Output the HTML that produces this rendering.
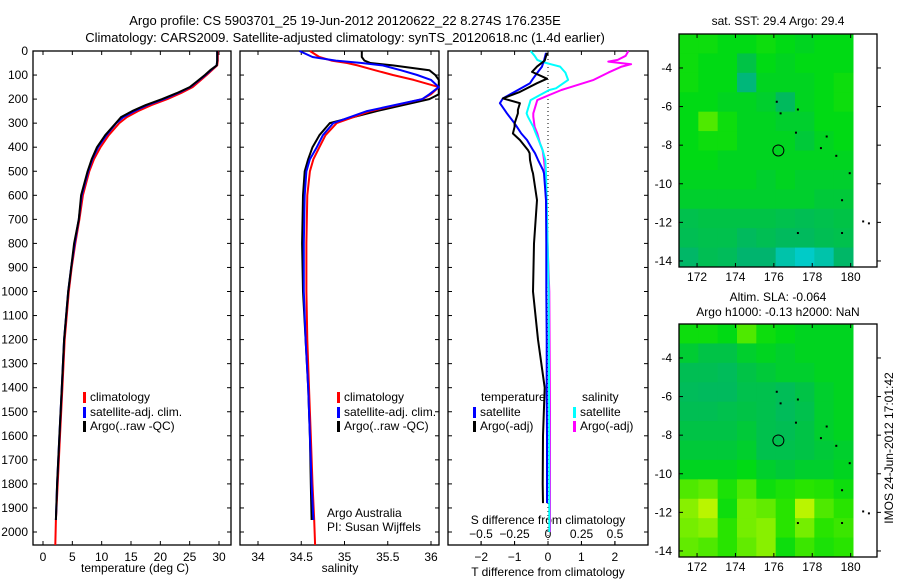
<!DOCTYPE html>
<html><head><meta charset="utf-8"><style>
body{margin:0;background:#fff;}
svg{display:block;font-family:"Liberation Sans",sans-serif;}
</style></head><body>
<svg id="fig" width="900" height="580" viewBox="0 0 900 580">
<text x="345" y="25" font-size="13" text-anchor="middle">Argo profile: CS 5903701_25 19-Jun-2012 20120622_22 8.274S 176.235E</text>
<text x="345" y="42" font-size="13" text-anchor="middle">Climatology: CARS2009. Satellite-adjusted climatology: synTS_20120618.nc (1.4d earlier)</text>
<text x="778" y="25" font-size="12" text-anchor="middle">sat. SST: 29.4 Argo: 29.4</text>
<text x="778" y="301" font-size="12" text-anchor="middle">Altim. SLA: -0.064</text>
<text x="778" y="316" font-size="12" text-anchor="middle">Argo h1000: -0.13 h2000: NaN</text>
<text transform="translate(893,448) rotate(-90)" font-size="12" text-anchor="middle">IMOS 24-Jun-2012 17:01:42</text>
<text x="81" y="572" font-size="12">temperature (deg C)</text>
<text x="340" y="572" font-size="12" text-anchor="middle">salinity</text>
<text x="548" y="576" font-size="12" text-anchor="middle">T difference from climatology</text>
<text x="548" y="524" font-size="12" text-anchor="middle">S difference from climatology</text>
<text x="327" y="517" font-size="12">Argo Australia</text>
<text x="327" y="531" font-size="12">PI: Susan Wijffels</text>
</svg>
<script>
// ---------- data ----------
const tDepth=[0,20,40,60,80,100,125,150,175,200,225,250,275,300,350,400,450,500,600,700,800,900,1000,1200,1400,1600,1800,1950];
const tArgo=[29.7,29.7,29.7,29.6,28.5,27.6,26.3,25,22.8,20.3,17.5,15.2,13.3,12.4,10.6,9.2,8.3,7.6,6.5,6.1,5.3,4.8,4.3,3.6,3.2,2.8,2.4,2.2];
const tClim=[29.8,29.8,29.8,29.7,28.8,27.9,26.7,25.5,23.5,21.2,18.5,16.2,14.3,13.0,11.2,9.8,8.7,7.9,6.8,6.2,5.5,4.9,4.4,3.7,3.3,2.9,2.5,2.2];
const tSat=[29.7,29.7,29.7,29.6,28.6,27.7,26.4,25.1,23.0,20.6,17.8,15.6,13.7,12.5,10.8,9.4,8.4,7.7,6.6,6.1,5.4,4.8,4.3,3.6,3.2,2.8,2.4,2.2];
const sDepth=[0,25,40,50,60,80,100,120,150,180,200,250,300,350,400,450,500,600,800,1000,1200,1400,1600,1800,1950];
const sArgo=[35.2,35.2,35.23,35.3,35.56,35.98,36.05,36.09,36.09,36.09,35.98,35.37,34.83,34.71,34.63,34.58,34.54,34.52,34.51,34.52,34.55,34.58,34.6,34.61,34.62];
const sClim=[34.6,34.71,34.85,35.03,35.15,35.35,35.56,35.8,36.09,36.0,35.9,35.3,34.91,34.78,34.71,34.64,34.6,34.57,34.56,34.56,34.57,34.59,34.61,34.63,34.65];
const sSat=[34.48,34.63,34.9,35.2,35.44,35.65,35.84,36.0,36.09,35.98,35.9,35.26,34.87,34.75,34.68,34.6,34.56,34.54,34.53,34.53,34.55,34.58,34.6,34.62,34.64];
const dDepth=[8,40,65,87,115,134,170,197,217,245,259,301,315,343,370,412,425,453,495,509,620,800,1000,1200,1400,1600,1800,1880];
const dTArgo=[-0.03,-0.1,-0.33,-0.48,-0.03,-0.33,-0.84,-1.35,-0.84,-0.9,-0.9,-1.0,-1.0,-1.05,-0.84,-0.6,-0.55,-0.54,-0.48,-0.45,-0.33,-0.42,-0.45,-0.3,-0.1,-0.15,-0.16,-0.15];
const dTSat=[-0.06,-0.12,-0.18,-0.3,-0.45,-0.54,-1.0,-1.35,-1.44,-1.3,-1.23,-1.0,-0.93,-0.8,-0.63,-0.45,-0.39,-0.3,-0.15,-0.12,-0.06,-0.05,-0.05,-0.04,-0.04,-0.03,-0.03,-0.03];
const sdDepth=[0,20,37,44,55,65,90,120,155,162,183,204,259,273,315,343,384,412,453,509,620,1000,1500,2000];
const dSSat=[-0.13,-0.1,-0.08,-0.05,0.02,0.09,0.13,0.15,0.06,0.01,-0.06,-0.13,-0.16,-0.15,-0.11,-0.09,-0.06,-0.04,-0.02,-0.015,-0.01,0.005,0.008,0.01];
const dSArgo=[0.6,0.58,0.52,0.45,0.62,0.55,0.45,0.34,0.14,0.1,0.01,-0.08,-0.11,-0.11,-0.1,-0.08,-0.06,-0.04,-0.03,-0.02,-0.015,0.01,0.015,0.015];
const depthTicks=[0,100,200,300,400,500,600,700,800,900,1000,1100,1200,1300,1400,1500,1600,1700,1800,1900,2000];
const tTicks=[0,5,10,15,20,25,30];
const sTicks=[34,34.5,35,35.5,36];
const sTickLabels=["34","34.5","35","35.5","36"];
const dTTicks=[-2,-1,0,1,2];
const dSTicks=[-0.5,-0.25,0,0.25,0.5];
const dSTickLabels=["\u22120.5","\u22120.25","0","0.25","0.5"];
const lonTicks=[172,174,176,178,180];
const latTicks=[-4,-6,-8,-10,-12,-14];
const sstGrid=[
[.72,.72,.7,.7,.72,.7,.68,.7,.7],
[.72,.7,.7,.62,.7,.68,.7,.7,.7],
[.72,.7,.7,.48,.68,.68,.68,.7,.72],
[.7,.7,.68,.68,.66,.55,.68,.7,.72],
[.7,.8,.72,.68,.68,.66,.66,.7,.7],
[.7,.72,.72,.68,.68,.68,.64,.68,.7],
[.7,.7,.68,.68,.68,.68,.68,.68,.68],
[.68,.68,.68,.68,.66,.68,.66,.66,.66],
[.66,.66,.66,.66,.66,.66,.66,.64,.64],
[.6,.62,.62,.62,.62,.6,.58,.6,.62],
[.58,.6,.6,.55,.58,.55,.55,.58,.6],
[.52,.58,.56,.5,.5,.4,.35,.4,.52]];
const slaGrid=[
[.72,.72,.7,.8,.72,.7,.68,.68,.68],
[.65,.62,.62,.66,.68,.66,.68,.68,.68],
[.58,.58,.56,.62,.64,.66,.66,.68,.68],
[.56,.55,.55,.6,.6,.57,.62,.66,.68],
[.58,.58,.6,.62,.6,.56,.6,.66,.68],
[.62,.62,.62,.64,.6,.58,.62,.66,.68],
[.64,.64,.64,.66,.6,.6,.62,.64,.66],
[.68,.68,.68,.7,.66,.64,.66,.66,.68],
[.8,.82,.74,.8,.72,.74,.76,.75,.72],
[.86,.92,.72,.84,.82,.76,.92,.8,.76],
[.84,.86,.76,.84,.86,.76,.84,.76,.78],
[.82,.8,.76,.82,.86,.72,.78,.74,.76]];
const argoLon=176.235, argoLat=-8.274;
// ---------- helpers ----------
const NS="http://www.w3.org/2000/svg";
const svg=document.getElementById('fig');
function mk(tag,attrs,parent){const e=document.createElementNS(NS,tag);for(const k in attrs)e.setAttribute(k,attrs[k]);(parent||svg).appendChild(e);return e;}
const yTop=51, yPx=0.2405, yBot=545;
const yD=d=>yTop+d*yPx;
const xT=v=>43+v*5.867;
const xS=v=>258+(v-34)*86.5;
const xDT=v=>548+v*33.4;
const xDS=v=>548+v*134;
function line(xs,ys,fx,color,name,w){
  const p=xs.map((v,i)=>fx(v).toFixed(1)+','+yD(ys[i]).toFixed(1)).join(' ');
  const el=mk('polyline',{points:p,fill:'none',stroke:color,'stroke-width':w||2,'stroke-linejoin':'round'});
  
  
}
function box(x0,x1,name){
  const r=mk('rect',{x:x0,y:yTop,width:x1-x0,height:yBot-yTop,fill:'none',stroke:'#000','stroke-width':1.3});
  
  
  depthTicks.forEach(d=>{mk('line',{x1:x0,x2:x0+4,y1:yD(d),y2:yD(d),stroke:'#000'});mk('line',{x1:x1,x2:x1-4,y1:yD(d),y2:yD(d),stroke:'#000'});});
}
box(33,231,'temperature-panel');box(240,439,'salinity-panel');box(448,648,'difference-panel');
depthTicks.forEach(d=>{const t=mk('text',{x:28,y:yD(d)+4,'font-size':12,'text-anchor':'end'});t.textContent=d;

});
function xticks(vals,labels,fx,ly){vals.forEach((v,i)=>{const x=fx(v);mk('line',{x1:x,x2:x,y1:yTop,y2:yTop+4,stroke:'#000'});mk('line',{x1:x,x2:x,y1:yBot,y2:yBot-4,stroke:'#000'});
 const t=mk('text',{x:x,y:ly,'font-size':12,'text-anchor':'middle'});t.textContent=labels[i];
 
 });}
xticks(tTicks,tTicks.map(String),xT,561);
xticks(sTicks,sTickLabels,xS,561);
xticks(dTTicks,dTTicks.map(v=>v<0?'\u2212'+(-v):String(v)),xDT,561);
dSTicks.forEach((v,i)=>{const x=xDS(v);mk('line',{x1:x,x2:x,y1:yBot,y2:yBot-4,stroke:'#000'});const t=mk('text',{x:x,y:538,'font-size':12,'text-anchor':'middle'});t.textContent=dSTickLabels[i];

});
mk('line',{x1:548,x2:548,y1:yTop,y2:yBot,stroke:'#000','stroke-dasharray':'1,3','stroke-width':1});
line(tClim.concat([2.1]),tDepth.concat([2054]),xT,'#ff0000','temp-climatology-line');
line(tSat,tDepth,xT,'#0000ff','temp-satellite-line');
line(tArgo,tDepth,xT,'#000000','temp-argo-line');
line(sArgo,sDepth,xS,'#000000','sal-argo-line');
line(sClim.concat([34.66]),sDepth.concat([2054]),xS,'#ff0000','sal-climatology-line');
line(sSat,sDepth,xS,'#0000ff','sal-satellite-line');
line(dSArgo,sdDepth,xDS,'#ff00ff','s-diff-argo-line');
line(dSSat,sdDepth,xDS,'#00ffff','s-diff-satellite-line');
line(dTSat,dDepth,xDT,'#0000ff','t-diff-satellite-line');
line(dTArgo,dDepth,xDT,'#000000','t-diff-argo-line');
function leg(x,y,color,label,name){mk('rect',{x:x,y:y-9,width:3,height:11,fill:color});const t=mk('text',{x:x+7,y:y,'font-size':12});t.textContent=label;

}
[[83],[337]].forEach(([x],k)=>{leg(x,401,'#ff0000','climatology','legend-climatology');leg(x,416,'#0000ff','satellite-adj. clim.','legend-satellite-adj');leg(x,430,'#000000','Argo(..raw -QC)','legend-argo');});
let tt=mk('text',{x:481,y:401,'font-size':12});tt.textContent='temperature';


tt=mk('text',{x:582,y:401,'font-size':12});tt.textContent='salinity';


leg(473,416,'#0000ff','satellite','legend-t-satellite');leg(473,430,'#000000','Argo(-adj)','legend-t-argo');
leg(573,416,'#00ffff','satellite','legend-s-satellite');leg(573,430,'#ff00ff','Argo(-adj)','legend-s-argo');
const stops=[[0,[0,0,128]],[0.3,[0,210,230]],[0.5,[0,180,110]],[0.62,[0,195,70]],[0.7,[0,218,20]],[0.76,[40,228,0]],[0.9,[175,245,0]],[1,[232,245,0]]];
function cmap(v){for(let i=1;i<stops.length;i++){if(v<=stops[i][0]){const a=stops[i-1],b=stops[i],f=(v-a[0])/(b[0]-a[0]);return 'rgb('+a[1].map((c,j)=>Math.round(c+(b[1][j]-c)*f)).join(',')+')';}}return 'rgb(232,245,0)';}
function drawMap(top,grid,name){
  const bot=top+233, x0=679, x1=877;
  const lonX=l=>679+(l-171.06)*19.2, latY=l=>top+(-2.24-l)*19.3;
  const nr=grid.length,nc=grid[0].length, dataR=853;
  const cw=(dataR-x0)/nc, ch=(bot-top)/nr;
  grid.forEach((row,r)=>row.forEach((v,c)=>{const e=mk('rect',{x:x0+c*cw,y:top+r*ch,width:cw+0.5,height:ch+0.5,fill:cmap(v)});
    
    }));
  const b=mk('rect',{x:x0,y:top,width:x1-x0,height:bot-top,fill:'none',stroke:'#000','stroke-width':1.3});
  
  
  lonTicks.forEach(l=>{const x=lonX(l);mk('line',{x1:x,x2:x,y1:top,y2:top+4,stroke:'#000'});mk('line',{x1:x,x2:x,y1:bot,y2:bot-4,stroke:'#000'});
    const t=mk('text',{x:x,y:bot+14,'font-size':12,'text-anchor':'middle'});t.textContent=l;
    
    });
  latTicks.forEach(l=>{const y=latY(l);mk('line',{x1:x0,x2:x0+4,y1:y,y2:y,stroke:'#000'});mk('line',{x1:x1,x2:x1+4,y1:y,y2:y,stroke:'#000'});
    const t=mk('text',{x:672,y:y+4,'font-size':12,'text-anchor':'end'});t.textContent=l;
    
    });
  [[176.1,-5.7],[176.3,-6.3],[177.2,-6.1],[177.1,-7.3],[178.4,-8.1],[179.2,-8.5],[179.9,-9.4],[179.5,-10.8],[177.2,-12.5],[179.5,-12.5],[180.6,-11.9],[180.9,-12.0],[178.7,-7.5]].forEach(p=>mk('rect',{x:lonX(p[0]),y:latY(p[1]),width:2,height:2,fill:'#000'}));
  const c=mk('circle',{cx:lonX(argoLon),cy:latY(argoLat),r:5.5,fill:'none',stroke:'#000','stroke-width':1});
  
  
}
drawMap(34,sstGrid,'sst-map');
drawMap(324,slaGrid,'sla-map');
</script>
</body></html>
